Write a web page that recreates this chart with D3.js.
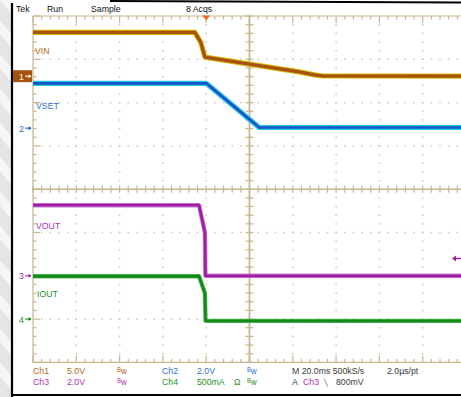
<!DOCTYPE html>
<html>
<head>
<meta charset="utf-8">
<script src="https://cdn.jsdelivr.net/npm/d3@7"></script>
<style>
  html, body { margin: 0; padding: 0; background: #fff; }
  svg { display: block; }
  text { font-family: "Liberation Sans", Arial, sans-serif; }
</style>
</head>
<body>
<svg id="scope" width="461" height="397"></svg>
<script>
// Acquisition: time in ms relative to the trigger point
const timeWindow = [-80, 120];          // 20 ms/div x 10 div
const gridCols = 10, gridRows = 8;

// Channel 1: VIN (V)
const vinTime  = [-80, -5.2, -2.5, -0.6, 20, 43, 50, 54, 120];
const vinValue = [5.05, 5.05, 3.9, 2.2, 1.4, 0.5, 0.15, 0.02, 0.0];

// Channel 2: VSET (V)
const vsetTime  = [-80, 0, 24.5, 120];
const vsetValue = [2.07, 2.07, 0.03, 0.03];

// Channel 3: VOUT (V)
const voutTime  = [-80, -3.3, -0.6, -0.35, 120];
const voutValue = [3.26, 3.26, 2.0, 0.0, 0.0];

// Channel 4: IOUT (A)
const ioutTime  = [-80, -3.3, -0.6, -0.3, 120];
const ioutValue = [0.495, 0.495, 0.3, -0.02, -0.02];

// Readout text
const headerItems = ["Tek", "Run", "Sample", "8 Acqs"];
const chNames  = ["Ch1", "Ch2", "Ch3", "Ch4"];
const chScales = ["5.0V", "2.0V", "2.0V", "500mA"];
const traceNames = ["VIN", "VSET", "VOUT", "IOUT"];
const horizReadout = ["M 20.0ms 500kS/s", "2.0\u00b5s/pt"];
const trigReadout = ["A", "Ch3", "\u2572", "800mV"];
const triggerLevel = 0.8;   // V on Ch3

// Channel settings: volts (or amps) per division and ground offset in divisions
const chVoltsPerDiv = [5.0, 2.0, 2.0, 0.5];
const chOffsetDiv   = [2.61, 1.41, -2.0, -3.0];

const svg = d3.select("#scope");
const D = 43.3;
const gx0 = 33, gy0 = 16;
const gx1 = gx0 + gridCols * D, gy1 = gy0 + gridRows * D;
const cx = gx0 + 5 * D, cy = gy0 + 4 * D;

const x = d3.scaleLinear().domain(timeWindow).range([gx0, gx1]);
const yScales = chVoltsPerDiv.map((s, i) =>
  d3.scaleLinear()
    .domain([(-gridRows / 2 - chOffsetDiv[i]) * s, (gridRows / 2 - chOffsetDiv[i]) * s])
    .range([gy1, gy0]));

// faint backdrop strip at the far left
const defs = svg.append("defs");
const pat = defs.append("pattern").attr("id", "stripes")
  .attr("width", 22).attr("height", 22)
  .attr("patternUnits", "userSpaceOnUse")
  .attr("patternTransform", "rotate(-40)");
pat.append("rect").attr("width", 22).attr("height", 22).attr("fill", "#e6e4e6");
pat.append("rect").attr("width", 9).attr("height", 22).attr("fill", "#f7f6f7");
svg.append("rect").attr("x", 0).attr("y", 0).attr("width", 11).attr("height", 397)
  .attr("fill", "url(#stripes)");

// bezel
svg.append("line").attr("x1", 12).attr("x2", 12).attr("y1", 3).attr("y2", 397)
  .attr("stroke", "#000").attr("stroke-width", 2.2);
svg.append("line").attr("x1", 11).attr("x2", 461).attr("y1", 395).attr("y2", 395)
  .attr("stroke", "#000").attr("stroke-width", 2.2);
svg.append("line").attr("x1", 110).attr("x2", 461).attr("y1", 1).attr("y2", 2.6)
  .attr("stroke", "#000").attr("stroke-width", 2);

// graticule
const grid = svg.append("g");
const gridCol = "#c6b690", dotCol = "#cfc5ae";
const minor = d3.range(0, gridCols * 5 + 1);
const minorY = d3.range(0, gridRows * 5 + 1);

// dotted division lines
d3.range(1, gridCols).filter(i => i !== 5).forEach(i => {
  grid.selectAll(null).data(minorY.slice(1, -1)).enter().append("rect")
    .attr("x", gx0 + i * D - 0.8).attr("y", k => gy0 + k * D / 5 - 0.6)
    .attr("width", 1.6).attr("height", 1.4).attr("fill", dotCol);
});
d3.range(1, gridRows).filter(j => j !== 4).forEach(j => {
  grid.selectAll(null).data(minor.slice(1, -1)).enter().append("rect")
    .attr("x", k => gx0 + k * D / 5 - 0.8).attr("y", gy0 + j * D - 0.7)
    .attr("width", 1.6).attr("height", 1.4).attr("fill", dotCol);
});

// borders with ticks
grid.append("line").attr("x1", gx0).attr("x2", gx1).attr("y1", gy0).attr("y2", gy0)
  .attr("stroke", gridCol).attr("stroke-width", 1.2);
grid.append("line").attr("x1", gx0).attr("x2", gx1).attr("y1", gy1).attr("y2", gy1)
  .attr("stroke", gridCol).attr("stroke-width", 1.2);
grid.append("line").attr("x1", gx0).attr("x2", gx0).attr("y1", gy0).attr("y2", gy1)
  .attr("stroke", gridCol).attr("stroke-width", 1.2);
minor.forEach(k => {
  const len = k % 5 === 0 ? 7 : 3.5;
  const xx = gx0 + k * D / 5;
  grid.append("line").attr("x1", xx).attr("x2", xx).attr("y1", gy0).attr("y2", gy0 + len)
    .attr("stroke", gridCol).attr("stroke-width", 1.2);
  grid.append("line").attr("x1", xx).attr("x2", xx).attr("y1", gy1).attr("y2", gy1 - len)
    .attr("stroke", gridCol).attr("stroke-width", 1.2);
  // centre horizontal axis ticks
  grid.append("line").attr("x1", xx).attr("x2", xx).attr("y1", cy - 3.5).attr("y2", cy + 3.5)
    .attr("stroke", gridCol).attr("stroke-width", 1.2);
});
minorY.forEach(k => {
  const len = k % 5 === 0 ? 7 : 3.5;
  const yy = gy0 + k * D / 5;
  grid.append("line").attr("x1", gx0).attr("x2", gx0 + len).attr("y1", yy).attr("y2", yy)
    .attr("stroke", gridCol).attr("stroke-width", 1.2);
  grid.append("line").attr("x1", cx - 4).attr("x2", cx + 4).attr("y1", yy).attr("y2", yy)
    .attr("stroke", gridCol).attr("stroke-width", 1.2);
});
grid.append("line").attr("x1", cx).attr("x2", cx).attr("y1", gy0).attr("y2", gy1)
  .attr("stroke", gridCol).attr("stroke-width", 1.8);
grid.append("line").attr("x1", gx0).attr("x2", gx1).attr("y1", cy).attr("y2", cy)
  .attr("stroke", gridCol).attr("stroke-width", 1.6);

// waveforms
const traces = [
  { t: vinTime,  v: vinValue,  glow: "#d9b400", core: "#a4520c", gw: 5.2, cw: 3.2 },
  { t: vsetTime, v: vsetValue, glow: "#28c4e8", core: "#1454c4", gw: 5.2, cw: 2.6 },
  { t: voutTime, v: voutValue, glow: "#c77ccb", core: "#a21ea8", gw: 4.4, cw: 2.8 },
  { t: ioutTime, v: ioutValue, glow: "#5cbf5c", core: "#12891a", gw: 4.4, cw: 2.8 }
];
const traceG = svg.append("g");
traces.forEach((tr, i) => {
  const pts = tr.t.map((t, k) => [t, tr.v[k]]);
  const line = d3.line().x(d => x(d[0])).y(d => yScales[i](d[1]));
  traceG.append("path").attr("d", line(pts)).attr("fill", "none")
    .attr("stroke", tr.glow).attr("stroke-width", tr.gw).attr("stroke-linejoin", "round");
  traceG.append("path").attr("d", line(pts)).attr("fill", "none")
    .attr("stroke", tr.core).attr("stroke-width", tr.cw).attr("stroke-linejoin", "round");
});

// condensed readout text helper
function label(g, txt, px, py, color, size) {
  return g.append("text").attr("transform", `translate(${px},${py}) scale(0.92,1)`)
    .attr("font-size", size || 9.5).attr("fill", color).text(txt);
}

const chColors = ["#b4641c", "#2f6fd0", "#ae2eb2", "#1f911f"];
const chMarkColors = ["#a4520c", "#1f63cc", "#a021a8", "#178c1c"];

// trace labels
const labG = svg.append("g");
const labPos = [[35, 53.5], [36, 109], [36, 229], [37, 297]];
traceNames.forEach((n, i) => label(labG, n, labPos[i][0], labPos[i][1], chColors[i], 9.5));

// channel ground markers
const mk = svg.append("g");
chOffsetDiv.forEach((o, i) => {
  const yy = yScales[i](0);
  const col = chMarkColors[i];
  let fg = col;
  if (i === 0) {
    mk.append("rect").attr("x", 13).attr("y", yy - 6).attr("width", 19).attr("height", 12)
      .attr("fill", col);
    fg = "#fff";
  }
  label(mk, String(i + 1), 19, yy + 3.5, fg, 9.5);
  mk.append("line").attr("x1", 25).attr("x2", 31).attr("y1", yy).attr("y2", yy)
    .attr("stroke", fg).attr("stroke-width", 1);
  mk.append("path").attr("d", `M31.5,${yy} l-3,-2 v4 z`).attr("fill", fg);
});

// trigger position marker
svg.append("path").attr("d", `M${x(0) - 4},${gy0 - 0.5} h8 l-4,5 z`).attr("fill", "#f06a1e");

// trigger level marker (Ch3)
const ty = yScales[2](triggerLevel);
svg.append("path").attr("d", `M452,${ty} l4,-3 v6 z`).attr("fill", chMarkColors[2]);
svg.append("line").attr("x1", 454).attr("x2", 461).attr("y1", ty).attr("y2", ty)
  .attr("stroke", chMarkColors[2]).attr("stroke-width", 1.4);

// header
const hd = svg.append("g");
const hx = [16, 47, 91, 186];
headerItems.forEach((h, i) => label(hd, h, hx[i], 11.5, "#111", 9.5));

// footer readout
const ft = svg.append("g");
const rowY = [374, 385];
const colX = [[33, 67, 117], [162, 197, 247]];
[[0, 1], [2, 3]].forEach((pair, r) => {
  pair.forEach((ch, c) => {
    label(ft, chNames[ch], colX[c][0], rowY[r], chColors[ch], 9.5);
    label(ft, chScales[ch], colX[c][1], rowY[r], chColors[ch], 9.5);
    const bw = ft.append("text")
      .attr("transform", `translate(${colX[c][2]},${rowY[r]}) scale(0.92,1)`)
      .attr("fill", chColors[ch]).attr("font-size", 8.5);
    bw.append("tspan").attr("font-size", 6.5).attr("dy", -2).text("B");
    bw.append("tspan").attr("font-size", 8.5).attr("dy", 2).text("w");
  });
});
label(ft, "\u03a9", 234, rowY[1], chColors[3], 9.5);
label(ft, horizReadout[0], 292, rowY[0], "#3a3a3a", 9.5);
label(ft, horizReadout[1], 387, rowY[0], "#3a3a3a", 9.5);
label(ft, trigReadout[0], 292, rowY[1], "#3a3a3a", 9.5);
label(ft, trigReadout[1], 303, rowY[1], chColors[2], 9.5);
label(ft, trigReadout[2], 324, rowY[1] - 0.5, "#3a3a3a", 7);
label(ft, trigReadout[3], 336, rowY[1], "#3a3a3a", 9.5);
</script>
</body>
</html>
